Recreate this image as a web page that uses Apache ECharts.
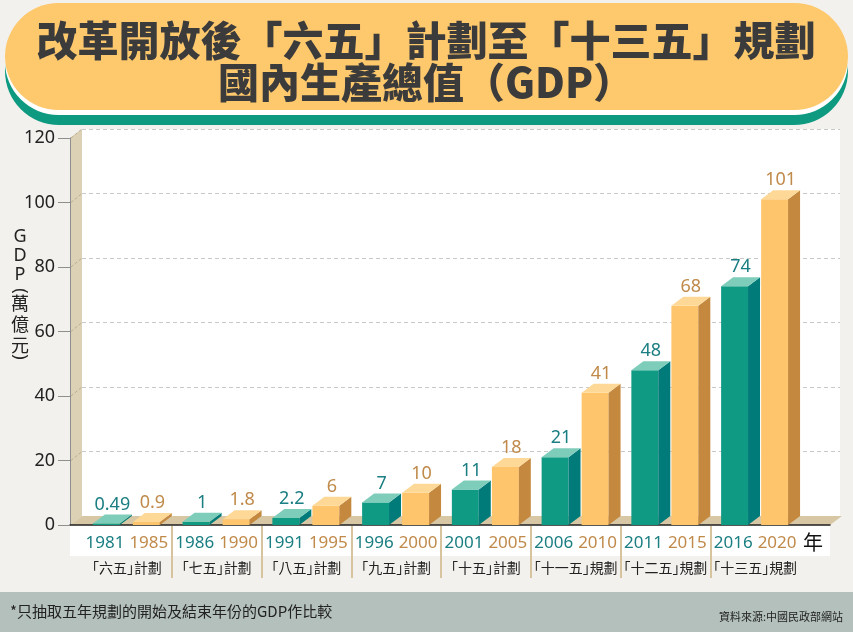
<!DOCTYPE html>
<html>
<head>
<meta charset="utf-8">
<title>GDP</title>
<style>
  html, body { margin: 0; padding: 0; background: #f3f1ed; }
  #main { width: 853px; height: 632px; }
</style>
</head>
<body>
<div id="main"></div>
<script src="https://cdn.jsdelivr.net/npm/echarts@6/dist/echarts.min.js"></script>
<script type="text/javascript">
// data
var plans = ['「六五」計劃', '「七五」計劃', '「八五」計劃', '「九五」計劃',
             '「十五」計劃', '「十一五」規劃', '「十二五」規劃', '「十三五」規劃'];
var startYears = [1981, 1986, 1991, 1996, 2001, 2006, 2011, 2016];
var endYears = [1985, 1990, 1995, 2000, 2005, 2010, 2015, 2020];
var startGdp = [0.49, 1, 2.2, 7, 11, 21, 48, 74];
var endGdp = [0.9, 1.8, 6, 10, 18, 41, 68, 101];
var yTicks = [0, 20, 40, 60, 80, 100, 120];

var CJK = '"Noto Sans CJK TC", "Noto Sans", sans-serif';
var LAT = '"Noto Sans", "Noto Sans CJK TC", sans-serif';
var DX = 12, DY = 9; // depth of the fake 3d

var myChart = echarts.init(document.getElementById('main'));

// 3d-looking bar, drawn from the axis coords
function bar3d(offset, c) {
    return function (params, api) {
        var i = api.value(0), v = api.value(1);
        var top = api.coord([i, v]);
        var base = api.coord([i, 0]);
        var band = api.size([1, 0])[0];
        var w = band * 0.3;
        var x0 = top[0] + band * offset;
        var t = top[1], b = base[1];
        return {
            type: 'group',
            children: [
                { type: 'rect', shape: { x: x0, y: t, width: w, height: b - t }, style: { fill: c.front } },
                { type: 'polygon', shape: { points: [[x0 + w, t], [x0 + w + DX, t - DY], [x0 + w + DX, b - DY], [x0 + w, b]] }, style: { fill: c.side } },
                { type: 'polygon', shape: { points: [[x0, t], [x0 + DX, t - DY], [x0 + w + DX, t - DY], [x0 + w, t]] }, style: { fill: c.top } },
                { type: 'text', style: { text: String(v), x: x0 + w / 2 + DX / 2, y: t - DY - 1, align: 'center', verticalAlign: 'bottom', fill: c.label, font: '18px ' + LAT } }
            ]
        };
    };
}

var teal = { front: '#0f9a84', side: '#017b7a', top: '#7ecdbb', label: '#1b7e82' };
var gold = { front: '#fec56c', side: '#c4893f', top: '#fed897', label: '#c08a4b' };

// plan label: corner brackets squeezed to half width like the original
function planLabel(s) {
    return '{p|' + s.replace('「', '}{lb|「}{p|').replace('」', '}{rb|」}{p|') + '}';
}

// left wall dashes
var wallDashes = [];
yTicks.slice(1).forEach(function (t) {
    var y = 525 - t * 387 / 120;
    wallDashes.push({ type: 'line', z: -5, shape: { x1: 71, y1: y, x2: 82, y2: y - DY }, style: { stroke: '#b9ad94', lineDash: [3, 2], lineWidth: 1 } });
});

var option = {
    backgroundColor: '#f3f1ed',
    animation: false,
    grid: [
        { left: 70, right: 23, top: 138, bottom: 107 },   // front: axes
        { left: 82, right: 53, top: 138, bottom: 107 },   // bars
        { left: 82, right: 13, top: 129, bottom: 116 },   // back wall grid lines
        { left: 82, right: 53, top: 526, bottom: 54 }     // separators under axis
    ],
    xAxis: [
        { gridIndex: 0, type: 'value', min: 0, max: 1, axisLine: { show: true, onZero: false, lineStyle: { color: '#222', width: 1.5 } }, axisTick: { show: false }, axisLabel: { show: false }, splitLine: { show: false } },
        { gridIndex: 1, type: 'category', data: plans, axisLine: { show: false }, axisTick: { show: false }, splitLine: { show: false },
          axisLabel: {
              interval: 0, margin: 4,
              formatter: function (value, idx) {
                  return '{s|' + startYears[idx] + '}{g|}{e|' + endYears[idx] + '}\n' + planLabel(value);
              },
              rich: {
                  s: { fontFamily: LAT, fontSize: 17, color: '#1b7e82', lineHeight: 28 },
                  e: { fontFamily: LAT, fontSize: 17, color: '#c08a4b', lineHeight: 28 },
                  g: { width: 5, lineHeight: 28 },
                  p: { fontFamily: CJK, fontSize: 14, color: '#222', lineHeight: 22 },
                  lb: { fontFamily: CJK, fontSize: 14, color: '#222', lineHeight: 22, width: 14, padding: [0, 0, 0, -7] },
                  rb: { fontFamily: CJK, fontSize: 14, color: '#222', lineHeight: 22, width: 14, padding: [0, -7, 0, 0] }
              }
          } },
        { gridIndex: 2, type: 'value', show: false },
        { gridIndex: 3, type: 'category', data: plans, axisLine: { show: false }, axisTick: { show: false }, axisLabel: { show: false },
          splitLine: { show: true, interval: 0, showMinLine: false, showMaxLine: false, lineStyle: { color: '#d8c39f', width: 2 } } }
    ],
    yAxis: [
        { gridIndex: 0, type: 'value', min: 0, max: 120, interval: 20,
          axisLine: { show: true, lineStyle: { color: '#8e8e8e', width: 1 } },
          axisTick: { show: true, length: 12, lineStyle: { color: '#8e8e8e' } },
          axisLabel: { margin: 15, color: '#222', fontSize: 18, fontFamily: LAT },
          splitLine: { show: false } },
        { gridIndex: 1, type: 'value', min: 0, max: 120, interval: 20, show: false },
        { gridIndex: 2, type: 'value', min: 0, max: 120, interval: 20,
          axisLine: { show: false }, axisTick: { show: false }, axisLabel: { show: false },
          splitLine: { show: true, showMinLine: false, lineStyle: { color: '#c9c9c9', type: [4, 3], width: 1 } } },
        { gridIndex: 3, type: 'value', show: false }
    ],
    series: [
        { type: 'custom', name: 'start', xAxisIndex: 1, yAxisIndex: 1, z: 3,
          data: startGdp.map(function (v, i) { return [i, v]; }),
          encode: { x: 0, y: 1 }, renderItem: bar3d(-0.379, teal) },
        { type: 'custom', name: 'end', xAxisIndex: 1, yAxisIndex: 1, z: 3,
          data: endGdp.map(function (v, i) { return [i, v]; }),
          encode: { x: 0, y: 1 }, renderItem: bar3d(0.067, gold) }
    ],
    graphic: [
        // title banner
        { type: 'rect', z: 10, shape: { x: 5, y: 17, width: 843, height: 108, r: 54 }, style: { fill: '#0e9a80' } },
        { type: 'rect', z: 10, shape: { x: 5, y: 8, width: 843, height: 107, r: 54 }, style: { fill: '#ffffff' } },
        { type: 'rect', z: 10, shape: { x: 5, y: 3, width: 843, height: 107, r: 54 }, style: { fill: '#fec86d' } },
        { type: 'text', z: 11, style: { text: '改革開放後「六五」計劃至「十三五」規劃', x: 426, y: 40, align: 'center', verticalAlign: 'middle', fill: '#3b3b3b', font: '900 41px ' + CJK } },
        { type: 'text', z: 11, style: { text: '國內生產總值（GDP）', x: 426, y: 82, align: 'center', verticalAlign: 'middle', fill: '#3b3b3b', font: '900 41px ' + CJK } },
        // walls and floor
        { type: 'rect', z: -10, shape: { x: 82, y: 129, width: 758, height: 388 }, style: { fill: '#ffffff' } },
        { type: 'polygon', z: -9, shape: { points: [[70, 138], [82, 129], [82, 516], [70, 525]] }, style: { fill: '#ddd1b5' } },
        { type: 'polygon', z: -9, shape: { points: [[70, 525], [82, 516], [842, 516], [830, 525]] }, style: { fill: '#d7c7a4' } },
        { type: 'rect', z: -9, shape: { x: 70, y: 526, width: 760, height: 30 }, style: { fill: '#ffffff' } },
        { type: 'text', z: 5, style: { text: '年', x: 803, y: 542, verticalAlign: 'middle', fill: '#111', font: '20px ' + CJK } },
        // y axis name
        { type: 'text', z: 5, style: { text: 'G\nD\nP', x: 20, y: 256, align: 'center', verticalAlign: 'middle', lineHeight: 19, fill: '#222', font: '18px ' + LAT } },
        { type: 'text', z: 5, style: { text: '萬\n億\n元', x: 20, y: 324, align: 'center', verticalAlign: 'middle', lineHeight: 21, fill: '#222', font: '18px ' + CJK } },
        { type: 'text', z: 5, x: 20, y: 291, rotation: -Math.PI / 2, style: { text: '(', x: 0, y: 0, align: 'center', verticalAlign: 'middle', fill: '#222', font: '18px ' + LAT } },
        { type: 'text', z: 5, x: 20, y: 357, rotation: -Math.PI / 2, style: { text: ')', x: 0, y: 0, align: 'center', verticalAlign: 'middle', fill: '#222', font: '18px ' + LAT } },
        // footer
        { type: 'rect', z: 5, shape: { x: 0, y: 592, width: 853, height: 40 }, style: { fill: '#b4c0bb' } },
        { type: 'text', z: 6, style: { text: '*只抽取五年規劃的開始及結束年份的GDP作比較', x: 10, y: 611, verticalAlign: 'middle', fill: '#222', font: '15px ' + CJK } },
        { type: 'text', z: 6, style: { text: '資料來源:中國民政部網站', x: 843, y: 617, align: 'right', verticalAlign: 'middle', fill: '#222', font: '11px ' + CJK } }
    ].concat(wallDashes)
};

myChart.setOption(option);
</script>
</body>
</html>
